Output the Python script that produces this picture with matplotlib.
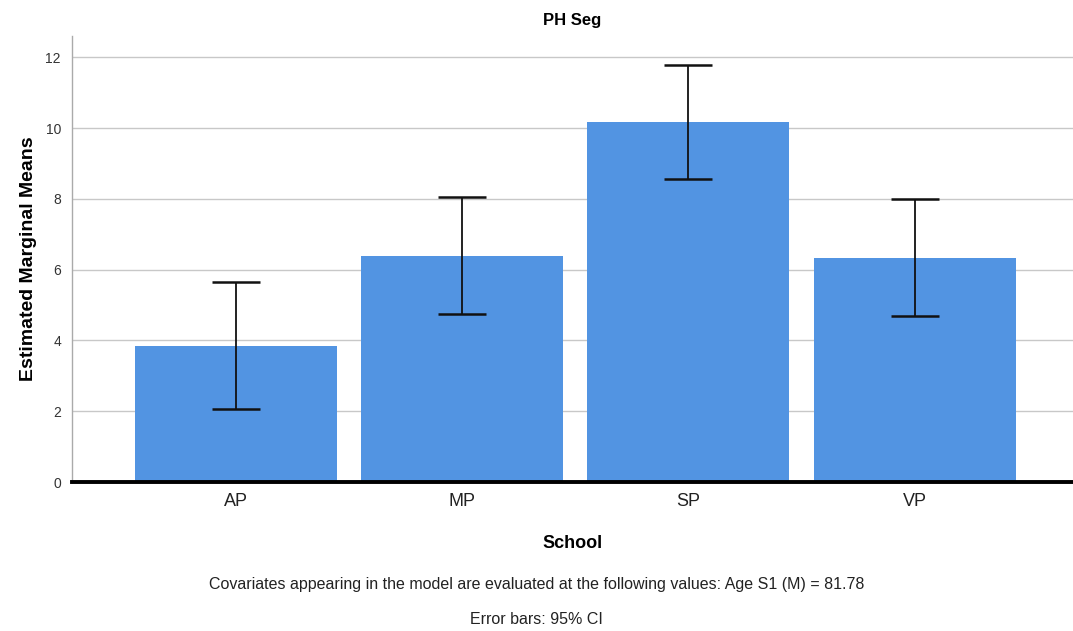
import matplotlib
matplotlib.use("Agg")
import matplotlib.pyplot as plt
import numpy as np

# ── Datos ──────────────────────────────────────────────────────────────────
schools = ["AP", "MP", "SP", "VP"]
means = [3.85, 6.38, 10.16, 6.32]
ci_low = [2.06, 4.74, 8.56, 4.68]
ci_high = [5.66, 8.05, 11.79, 7.99]

plt.rcParams["font.family"] = ["Liberation Sans", "DejaVu Sans"]

fig = plt.figure(figsize=(10.73, 6.31), dpi=100)
ax = fig.add_axes([72 / 1073, 1 - 482 / 631, 1 - 72 / 1073, (482 - 36) / 631])

x = np.arange(len(schools))
m = np.array(means)
yerr = [m - np.array(ci_low), np.array(ci_high) - m]

ax.bar(x, m, width=0.893, color="#5294e2", zorder=2)
ax.errorbar(x, m, yerr=yerr, fmt="none", ecolor="#111111", elinewidth=1.3,
            capsize=17.5, capthick=1.8, zorder=3)

ax.set_xlim(-0.725, 3.70)
ax.set_ylim(0, 12.6)
ax.set_yticks([0, 2, 4, 6, 8, 10, 12])
ax.yaxis.grid(True, color="#c8c8c8", linewidth=1.0, zorder=0)
ax.set_axisbelow(True)

for s in ("top", "right"):
    ax.spines[s].set_visible(False)
ax.spines["left"].set_color("#aaaaaa")
ax.spines["left"].set_linewidth(1.0)
ax.spines["bottom"].set_color("black")
ax.spines["bottom"].set_linewidth(2.8)
ax.spines["bottom"].set_zorder(4)

ax.set_xticks(x)
ax.set_xticklabels(schools, fontsize=13, color="#222222")
ax.tick_params(axis="x", length=0, pad=8)
ax.tick_params(axis="y", length=0, labelsize=10, pad=8, colors="#333333")

ax.set_ylabel("Estimated Marginal Means", fontsize=14, fontweight="bold", labelpad=6)
ax.set_xlabel("School", fontsize=13, fontweight="bold", labelpad=18)
ax.set_title("PH Seg", fontsize=12, fontweight="bold", pad=8)

foot = dict(ha="center", va="center", fontsize=11.5, color="#222222",
            fontstretch="condensed")
fig.text(0.5, 1 - 585 / 631,
         "Covariates appearing in the model are evaluated at the following values: Age S1 (M) = 81.78",
         **foot)
fig.text(0.5, 1 - 620 / 631, "Error bars: 95% CI", **foot)

fig.savefig("out.png", dpi=100)
plt.close(fig)
